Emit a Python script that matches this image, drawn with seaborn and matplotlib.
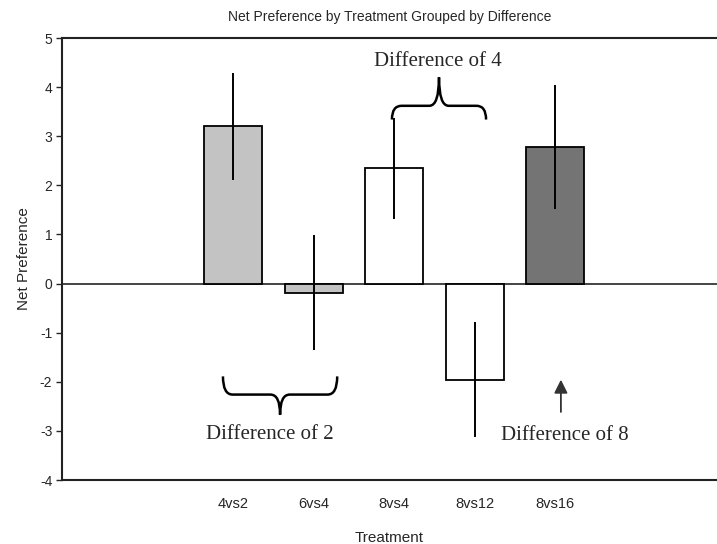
import numpy as np
import pandas as pd
import matplotlib
matplotlib.use("Agg")
import matplotlib.pyplot as plt
from matplotlib.path import Path
from matplotlib.patches import PathPatch
import seaborn as sns

# data
treatments = ["4vs2", "6vs4", "8vs4", "8vs12", "8vs16"]
net_pref = [3.20, -0.19, 2.35, -1.96, 2.78]
err = [1.09, 1.17, 1.03, 1.17, 1.27]
bar_colors = ["#c3c3c3", "#c3c3c3", "#ffffff", "#ffffff", "#747474"]

sns.set_style("white")
plt.rcParams["font.family"] = ["Liberation Sans", "DejaVu Sans"]
plt.rcParams["axes.unicode_minus"] = False

SERIF = ["Liberation Serif", "DejaVu Serif"]


def brace(ax, x0, x1, y_end, y_mid, y_tip):
    """Curly brace between x0 and x1; y_end at the arms, y_tip at the point."""
    xm = (x0 + x1) / 2
    rx = 0.12
    verts = [
        (x0, y_end), (x0, y_mid), (x0 + rx, y_mid),
        (xm - rx, y_mid), (xm, y_mid), (xm, y_tip),
        (xm, y_mid), (xm + rx, y_mid),
        (x1 - rx, y_mid), (x1, y_mid), (x1, y_end),
    ]
    codes = [
        Path.MOVETO, Path.CURVE3, Path.CURVE3,
        Path.LINETO, Path.CURVE3, Path.CURVE3,
        Path.CURVE3, Path.CURVE3,
        Path.LINETO, Path.CURVE3, Path.CURVE3,
    ]
    ax.add_patch(PathPatch(Path(verts, codes), fill=False, lw=1.8, color="black"))


df = pd.DataFrame({"treatment": treatments, "net": net_pref})

fig = plt.figure(figsize=(7.17, 5.44), dpi=100)
ax = fig.add_axes([0.0865, 0.1176, 0.9135, 0.8125])

sns.barplot(data=df, x="treatment", y="net", hue="treatment", palette=bar_colors,
            edgecolor="black", linewidth=1.3, width=0.72, legend=False, ax=ax)
ax.errorbar(np.arange(len(treatments)), net_pref, yerr=err, fmt="none",
            ecolor="black", elinewidth=1.4, capsize=0)
ax.axhline(0, color="#444444", lw=1.4, zorder=0.5)

ax.set_xlim(-2.13, 6.01)
ax.set_ylim(-4, 5)
ax.set_yticks(range(-4, 6))
ax.tick_params(axis="y", left=True, length=4, width=1, labelsize=10, pad=3)
ax.tick_params(axis="x", bottom=False, labelsize=10.5, pad=9)

for side in ["left", "top", "bottom"]:
    ax.spines[side].set_color("#222222")
    ax.spines[side].set_linewidth(1.5)
ax.spines["right"].set_visible(False)

ax.set_title("Net Preference by Treatment Grouped by Difference", fontsize=10, pad=12)
ax.set_xlabel("Treatment", fontsize=11, labelpad=14)
ax.set_ylabel("Net Preference", fontsize=11, labelpad=6)

# annotations
brace(ax, -0.13, 1.29, -1.89, -2.26, -2.67)
ax.text(0.45, -3.08, "Difference of 2", fontsize=15, family=SERIF, ha="center", va="center")

brace(ax, 1.97, 3.14, 3.34, 3.62, 4.2)
ax.text(2.54, 4.52, "Difference of 4", fontsize=15, family=SERIF, ha="center", va="center")

ax.annotate("", xy=(4.07, -1.9), xytext=(4.07, -2.67),
            arrowprops=dict(arrowstyle="-|>", color="#333333", lw=1.3, mutation_scale=20))
ax.text(4.12, -3.1, "Difference of 8", fontsize=15, family=SERIF, ha="center", va="center")

fig.savefig("out.png", dpi=100)
